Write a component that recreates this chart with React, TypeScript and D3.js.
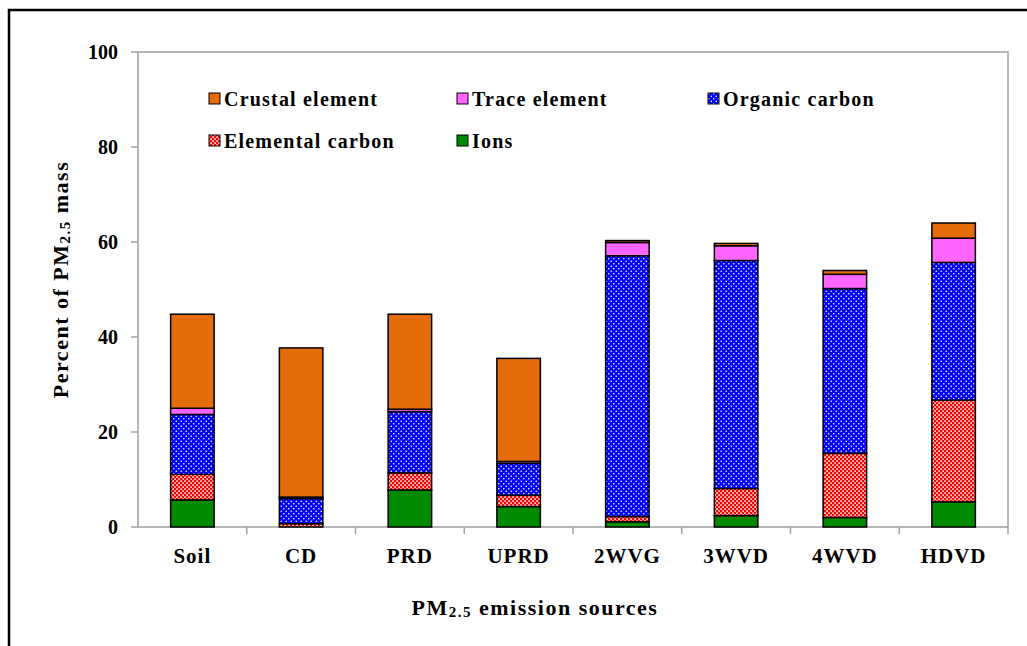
import React from 'react';
import * as d3 from 'd3';

const categories = ['Soil', 'CD', 'PRD', 'UPRD', '2WVG', '3WVD', '4WVD', 'HDVD'];
const ions = [5.7, 0, 7.8, 4.3, 1.1, 2.4, 2.0, 5.3];
const elementalCarbon = [5.4, 0.7, 3.6, 2.4, 1.1, 5.7, 13.5, 21.4];
const organicCarbon = [12.6, 5.3, 12.9, 6.7, 54.9, 48.0, 34.7, 29.0];
const traceElement = [1.3, 0.3, 0.5, 0.4, 2.8, 3.1, 3.0, 5.1];
const crustalElement = [19.8, 31.4, 20.0, 21.7, 0.4, 0.5, 0.8, 3.2];
const yTicks = [0, 20, 40, 60, 80, 100];

const seriesKeys = ['ions', 'ec', 'oc', 'te', 'ce'];
const seriesValues: Record<string, number[]> = {
  ions, ec: elementalCarbon, oc: organicCarbon, te: traceElement, ce: crustalElement,
};
const fills: Record<string, string> = {
  ions: '#008A00', ec: 'url(#ecPat)', oc: 'url(#ocPat)', te: '#FF66FF', ce: '#E46C0A',
};
const legendItems = [
  { key: 'ce', label: 'Crustal element', col: 0, row: 0 },
  { key: 'te', label: 'Trace element', col: 1, row: 0 },
  { key: 'oc', label: 'Organic carbon', col: 2, row: 0 },
  { key: 'ec', label: 'Elemental carbon', col: 0, row: 1 },
  { key: 'ions', label: 'Ions', col: 1, row: 1 },
];

const W = 1027, H = 646;
const left = 138, right = 1008, top = 52, bottom = 527;
const font = '"Liberation Serif", "Times New Roman", serif';

export default function App() {
  const x = d3.scaleBand<string>().domain(categories).range([left, right]).paddingInner(0.6).paddingOuter(0.3);
  const band = d3.scaleBand<string>().domain(categories).range([left, right]);
  const y = d3.scaleLinear().domain([0, 100]).range([bottom, top]);

  const rows = categories.map((c, i) => {
    const r: any = { cat: c };
    seriesKeys.forEach(k => (r[k] = seriesValues[k][i]));
    return r;
  });
  const stacked = d3.stack().keys(seriesKeys)(rows);

  const legendColX = [209, 457, 708];
  const legendRowY = [99, 141];

  return (
    <svg width={W} height={H} style={{ position: 'absolute', left: 0, top: 0, background: '#fff' }} fontFamily={font}>
      <defs>
        <pattern id="ocPat" width={5} height={5} patternUnits="userSpaceOnUse">
          <rect width={5} height={5} fill="#0000FF" />
          <circle cx={1.25} cy={1.25} r={0.8} fill="#fff" />
          <circle cx={3.75} cy={3.75} r={0.8} fill="#fff" />
        </pattern>
        <pattern id="ecPat" width={4} height={4} patternUnits="userSpaceOnUse">
          <rect width={4} height={4} fill="#FF0000" />
          <rect x={0.3} y={0.3} width={1.6} height={1.6} fill="#fff" />
          <rect x={2.3} y={2.3} width={1.6} height={1.6} fill="#fff" />
        </pattern>
      </defs>
      <rect x={0} y={0} width={W} height={H} fill="#fff" />
      <rect x={9} y={10} width={1200} height={800} fill="none" stroke="#000" strokeWidth={2.5} />

      <rect x={left} y={top} width={right - left} height={bottom - top} fill="none" stroke="#a0a0a0" strokeWidth={1.5} />
      {yTicks.map(t => (
        <g key={t}>
          <line x1={left - 7} x2={left} y1={y(t)} y2={y(t)} stroke="#a0a0a0" strokeWidth={1.5} />
          <text x={118} y={y(t)} textAnchor="end" dominantBaseline="central" fontSize={20} fontWeight="bold">{t}</text>
        </g>
      ))}
      {categories.map(c => (
        <line key={c} x1={(band(c) as number) + band.bandwidth()} x2={(band(c) as number) + band.bandwidth()} y1={bottom} y2={bottom + 7} stroke="#a0a0a0" strokeWidth={1.5} />
      ))}

      {stacked.map(s => (
        <g key={s.key}>
          {s.map((d, i) => (
            d[1] - d[0] > 0 ? (
              <rect key={i} x={x(categories[i])} width={x.bandwidth()} y={y(d[1])} height={y(d[0]) - y(d[1])}
                fill={fills[s.key]} stroke="#000" strokeWidth={1.5} />
            ) : null
          ))}
        </g>
      ))}

      {categories.map(c => (
        <text key={c} x={(x(c) as number) + x.bandwidth() / 2} y={556} textAnchor="middle" dominantBaseline="central" fontSize={21} fontWeight="bold" letterSpacing={1}>{c}</text>
      ))}

      {legendItems.map(it => (
        <g key={it.key}>
          <rect x={legendColX[it.col]} y={legendRowY[it.row] - 6} width={11} height={11} fill={fills[it.key]} stroke="#000" strokeWidth={1} />
          <text x={legendColX[it.col] + 15} y={legendRowY[it.row]} dominantBaseline="central" fontSize={20} fontWeight="bold" letterSpacing={1.2}>{it.label}</text>
        </g>
      ))}

      <text transform={`translate(60,${(top + bottom) / 2 - 10}) rotate(-90)`} textAnchor="middle" dominantBaseline="central" fontSize={22} fontWeight="bold" letterSpacing={1.5}>
        Percent of PM<tspan fontSize={15} dy={5}>2.5</tspan><tspan dy={-5}> mass</tspan>
      </text>
      <text x={535} y={607} textAnchor="middle" dominantBaseline="central" fontSize={22} fontWeight="bold" letterSpacing={1.5}>
        PM<tspan fontSize={15} dy={5}>2.5</tspan><tspan dy={-5}> emission sources</tspan>
      </text>
    </svg>
  );
}
